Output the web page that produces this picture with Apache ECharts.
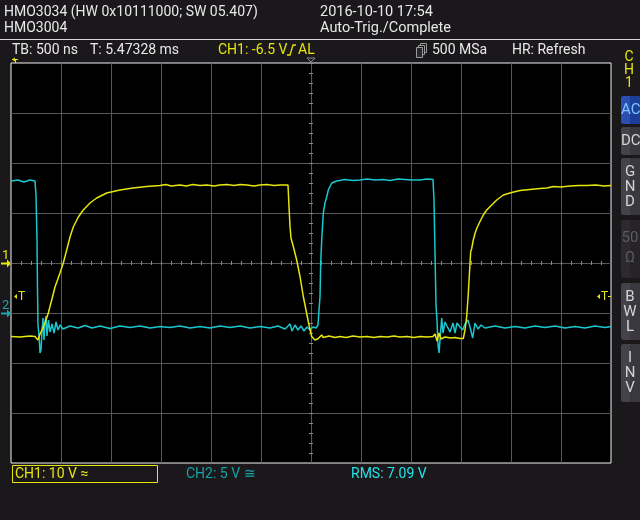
<!DOCTYPE html>
<html><head><meta charset="utf-8">
<script src="https://cdn.jsdelivr.net/npm/echarts@6/dist/echarts.min.js"></script>
<style>html,body{margin:0;padding:0;background:#1b181c;}#c{width:640px;height:520px;}</style>
</head><body><div id="c"></div>
<script>
// ---- Data (time in ns, relative to screen centre; volts) ----
const timeMin = -3000, timeMax = 3000, timePerDiv = 500;
const ch1VoltsPerDiv = 10, ch2VoltsPerDiv = 5;

const ch1Time = [-3000,-2910,-2810,-2760,-2750,-2730,-2710,-2690,-2660,-2627,-2593,-2560,-2510,-2477,-2443,-2410,-2377,-2327,-2277,-2210,-2143,-2043,-1910,-1780,-1643,-1510,-1450,-1400,-1310,-1250,-1180,-1110,-1040,-970,-910,-840,-770,-710,-640,-570,-510,-440,-370,-310,-230,
  -220,-210,-200,-177,-143,-110,-77,-43,-17,7,40,73,107,123,180,240,290,350,420,490,560,630,690,760,830,890,960,1030,1090,1160,1220,1240,1260,1280,1300,1340,1400,1440,1490,1523,
  1540,1557,1573,1590,1597,1607,1623,1640,1657,1690,1723,1757,1807,1857,1923,2007,2090,2190,2290,2360,2423,2500,2590,2680,2757,2850,2930,3000];
const ch1Volts = [-14.7,-14.8,-14.6,-14.7,-15.0,-15.4,-14.2,-13.4,-12.0,-10.0,-7.4,-4.8,-2.0,0,2.6,5.2,7.2,9.2,10.6,12.0,13.0,14.0,14.6,15.0,15.3,15.5,15.7,15.4,15.6,15.4,15.7,15.5,15.6,15.4,15.6,15.7,15.5,15.7,15.6,15.4,15.6,15.7,15.5,15.6,15.6,
  11.3,7.3,5.0,3.3,0.6,-2.7,-6.7,-10.1,-12.7,-14.7,-15.4,-15.1,-14.4,-14.9,-14.6,-14.9,-14.7,-14.9,-14.6,-14.8,-14.7,-14.9,-14.7,-14.8,-14.6,-14.8,-14.7,-14.9,-14.7,-14.8,-14.7,-14.2,-15.6,-14.0,-15.2,-14.8,-15.0,-14.9,-15.1,-15.1,
  -13.4,-10.7,-6.1,-0.1,2.3,2.9,4.6,5.9,6.9,8.3,9.6,10.6,11.6,12.6,13.6,14.1,14.5,14.7,14.9,15.0,15.3,15.2,15.4,15.5,15.5,15.6,15.4,15.5];

const ch2Time = [-3000,-2930,-2870,-2810,-2760,-2750,-2740,-2735,-2730,-2720,-2710,-2700,-2690,-2680,-2670,-2660,-2650,-2640,-2625,-2610,-2590,-2570,-2550,-2530,-2510,-2480,
  -2410,-2330,-2260,-2190,-2110,-2010,-1910,-1810,-1710,-1610,-1510,-1410,-1310,-1210,-1110,-1010,-910,-810,-710,-610,-510,-410,-330,-260,-210,-190,-160,-130,-100,-70,-40,-10,20,50,70,
  80,90,97,107,123,140,157,173,207,257,340,420,490,560,640,720,790,870,940,1010,1090,1160,1220,
  1230,1237,1250,1260,1270,1280,1290,1307,1320,1340,1357,1390,1420,1440,1460,1490,1517,1540,1570,1590,1617,1640,1670,1700,1740,
  1840,1940,2040,2140,2240,2340,2440,2540,2640,2740,2840,2940,3000];
const ch2Volts = [13.2,13.3,13.1,13.3,13.2,11.8,7.3,2.3,-1.2,-2.2,-4.0,-3.7,-1.7,-0.5,-2.7,-0.9,-0.3,-2.3,-0.7,-1.9,-1.1,-2.0,-0.9,-1.7,-1.2,-1.6,
  -1.3,-1.5,-1.25,-1.5,-1.3,-1.55,-1.3,-1.45,-1.3,-1.5,-1.35,-1.45,-1.3,-1.5,-1.35,-1.5,-1.3,-1.45,-1.3,-1.5,-1.35,-1.5,-1.3,-1.6,-1.1,-1.8,-1.2,-1.7,-1.3,-1.8,-1.4,-1.7,-1.4,-1.5,-1.2,
  0.3,1.6,5.0,7.3,10.0,11.0,11.6,12.3,13.0,13.2,13.35,13.25,13.3,13.4,13.3,13.35,13.25,13.4,13.35,13.3,13.3,13.4,13.35,
  11.3,7.6,0.8,-0.7,-3.2,-4.0,-2.7,-0.5,-2.0,-0.9,-1.0,-1.9,-1.0,-2.0,-1.0,-1.4,-1.7,-1.1,-0.7,-1.4,-2.5,-1.0,-1.6,-1.2,-1.5,
  -1.3,-1.5,-1.35,-1.5,-1.3,-1.45,-1.3,-1.5,-1.35,-1.5,-1.3,-1.45,-1.35];

// ---- Texts ----
const headerLeft = ['HMO3034 (HW 0x10111000; SW 05.407)', 'HMO3004'];
const headerRight = ['2016-10-10 17:54', 'Auto-Trig./Complete'];
const statusTexts = ['TB: 500 ns', 'T: 5.47328 ms', 'CH1: -6.5 V', 'AL', '500 MSa', 'HR: Refresh'];
const footerTexts = ['CH1: 10 V \u2248', 'CH2: 5 V \u2245', 'RMS: 7.09 V'];

const YEL = '#e6e60c', CYAN = '#19c8cf', FONT = 'Roboto, "Noto Sans", sans-serif';
const chart = echarts.init(document.getElementById('c'), null, {renderer: 'canvas'});

function txt(x, y, s, color, size, extra) {
  return Object.assign({type: 'text', x: x, y: y, silent: true, z: 50,
    style: {text: s, fill: color, font: (size || 14) + 'px ' + FONT, verticalAlign: 'middle'}}, extra || {});
}
function ctxt(x, y, s, color, size) {
  return {type: 'text', x: x, y: y, silent: true, z: 51,
    style: {text: s, fill: color, font: (size || 14) + 'px ' + FONT, align: 'center', verticalAlign: 'middle'}};
}
const g = [];
g.push(txt(4, 12, headerLeft[0], '#e8e8e8'));
g.push(txt(4, 28, headerLeft[1], '#e8e8e8'));
g.push(txt(320, 12, headerRight[0], '#e8e8e8', 14.5));
g.push(txt(320, 28, headerRight[1], '#e8e8e8', 14.5));
g.push({type: 'line', silent: true, shape: {x1: 0, y1: 39.5, x2: 640, y2: 39.5}, style: {stroke: '#d8d8d8', lineWidth: 1}});
g.push(txt(12, 50, statusTexts[0], '#e8e8e8'));
g.push(txt(90, 50, statusTexts[1], '#e8e8e8'));
g.push(txt(218, 50, statusTexts[2], YEL));
g.push({type: 'polyline', silent: true, shape: {points: [[287, 55], [290, 55], [293, 45], [296, 45]]}, style: {stroke: YEL, lineWidth: 1.3, fill: null}});
g.push(txt(298, 50, statusTexts[3], YEL));
// memory icon
g.push({type: 'rect', silent: true, shape: {x: 420.5, y: 43.5, width: 6, height: 9}, style: {stroke: '#9a9a9a', fill: '#1b181c'}});
g.push({type: 'rect', silent: true, shape: {x: 418.5, y: 45.5, width: 6, height: 9}, style: {stroke: '#9a9a9a', fill: '#1b181c'}});
g.push({type: 'rect', silent: true, shape: {x: 416.5, y: 47.5, width: 6, height: 10}, style: {stroke: '#9a9a9a', fill: '#2a282c'}});
g.push(txt(432, 50, statusTexts[4], '#e8e8e8'));
g.push(txt(512, 50, statusTexts[5], '#e8e8e8'));
// CH1 vertical label
g.push(ctxt(629, 57, 'C', YEL)); g.push(ctxt(629, 70, 'H', YEL)); g.push(ctxt(629, 83, '1', YEL));
// buttons
const btns = [
  {y: 96, h: 28, fill: '#1d3d9a', side: '#2a4fb0', color: '#7cc4ff', letters: [['AC', 110]], horiz: true},
  {y: 127, h: 28, fill: '#3a383e', side: '#45434a', color: '#d4d4d4', letters: [['DC', 141]], horiz: true},
  {y: 158, h: 57, fill: '#3a383e', side: '#45434a', color: '#d4d4d4', letters: [['G', 172], ['N', 187], ['D', 202]]},
  {y: 220, h: 58, fill: '#262428', side: '#2c2a2e', color: '#5c5c5c', letters: [['50', 238], ['\u03A9', 258]]},
  {y: 283, h: 57, fill: '#3a383e', side: '#45434a', color: '#d4d4d4', letters: [['B', 297], ['W', 312], ['L', 327]]},
  {y: 344, h: 58, fill: '#3a383e', side: '#45434a', color: '#d4d4d4', letters: [['I', 358], ['N', 373], ['V', 388]]}
];
btns.forEach(b => {
  g.push({type: 'rect', silent: true, shape: {x: 621, y: b.y, width: 24, height: b.h, r: 3}, style: {fill: b.fill}});
  g.push({type: 'rect', silent: true, shape: {x: 621, y: b.y, width: 9, height: b.h, r: [3, 0, 0, 3]}, style: {fill: b.side}});
  b.letters.forEach(l => g.push(b.horiz ? txt(621, l[1], l[0], b.color, 15) : ctxt(630, l[1], l[0], b.color, 15)));
});
// left channel markers
g.push(txt(2, 256, '1', YEL, 13));
g.push({type: 'polyline', silent: true, shape: {points: [[1, 263.5], [10, 263.5]]}, style: {stroke: YEL, lineWidth: 2}});
g.push({type: 'polygon', silent: true, shape: {points: [[7, 259.5], [11, 263.5], [7, 267.5]]}, style: {fill: YEL}});
g.push(txt(2, 306, '2', '#1aa6ac', 13));
g.push({type: 'polyline', silent: true, shape: {points: [[1, 313.5], [10, 313.5]]}, style: {stroke: '#1aa6ac', lineWidth: 2}});
g.push({type: 'polygon', silent: true, shape: {points: [[7, 309.5], [11, 313.5], [7, 317.5]]}, style: {fill: '#1aa6ac'}});
// trigger level markers
g.push({type: 'polygon', silent: true, z: 60, shape: {points: [[14, 296.5], [17, 294], [17, 299]]}, style: {fill: YEL}});
g.push(txt(18, 297, 'T', YEL, 12, {z: 60}));
g.push({type: 'polygon', silent: true, z: 60, shape: {points: [[597, 296.5], [600, 294], [600, 299]]}, style: {fill: YEL}});
g.push(txt(601, 297, 'T', YEL, 12, {z: 60}));
g.push({type: 'line', silent: true, z: 60, shape: {x1: 608, y1: 296.5, x2: 611, y2: 296.5}, style: {stroke: YEL, lineWidth: 1}});
// trigger position markers on top
g.push({type: 'polygon', silent: true, shape: {points: [[307, 58], [315, 58], [311, 62]]}, style: {stroke: '#8a8a8a', fill: null, lineWidth: 1}});
g.push({type: 'polyline', silent: true, shape: {points: [[12, 59.5], [18, 59.5]]}, style: {stroke: YEL, lineWidth: 1}});
g.push({type: 'polygon', silent: true, shape: {points: [[12, 59.5], [15, 57.5], [15, 61.5]]}, style: {fill: YEL}});
g.push({type: 'line', silent: true, shape: {x1: 15.5, y1: 59.5, x2: 15.5, y2: 63}, style: {stroke: YEL, lineWidth: 1}});
// footer
g.push({type: 'rect', silent: true, shape: {x: 12.5, y: 465.5, width: 145, height: 17}, style: {stroke: YEL, fill: null, lineWidth: 1}});
g.push(txt(15, 474, footerTexts[0], YEL));
g.push(txt(186, 474, footerTexts[1], '#15a2a6'));
g.push(txt(351, 474, footerTexts[2], '#24e2ea'));

const tickStyle = {color: '#8c8c8c', width: 1};
const gridLine = {color: '#585858', width: 1};
chart.setOption({
  backgroundColor: '#1b181c',
  animation: false,
  grid: {left: 11, top: 63, width: 600, height: 400, show: true, backgroundColor: '#000', borderColor: '#f2f2f2', borderWidth: 1, containLabel: false},
  xAxis: [
    {type: 'value', min: timeMin, max: timeMax, interval: timePerDiv, axisLabel: {show: false},
     splitLine: {show: true, showMinLine: false, showMaxLine: false, lineStyle: gridLine},
     axisLine: {show: true, onZero: true, onZeroAxisIndex: 0, lineStyle: gridLine},
     axisTick: {show: true, inside: true, length: 2, lineStyle: tickStyle},
     minorTick: {show: true, splitNumber: 5, length: 2, lineStyle: tickStyle}},
    {type: 'value', min: timeMin, max: timeMax, interval: timePerDiv, position: 'bottom', axisLabel: {show: false},
     splitLine: {show: false}, axisLine: {show: false, onZero: true, onZeroAxisIndex: 2},
     axisTick: {show: true, inside: false, length: 2, lineStyle: tickStyle},
     minorTick: {show: true, splitNumber: 5, length: 2, lineStyle: tickStyle}}
  ],
  yAxis: [
    {type: 'value', min: -4 * ch1VoltsPerDiv, max: 4 * ch1VoltsPerDiv, interval: ch1VoltsPerDiv, axisLabel: {show: false},
     splitLine: {show: true, showMinLine: false, showMaxLine: false, lineStyle: gridLine},
     axisLine: {show: true, onZero: true, onZeroAxisIndex: 0, lineStyle: gridLine},
     axisTick: {show: true, inside: true, length: 2, lineStyle: tickStyle},
     minorTick: {show: true, splitNumber: 5, length: 2, lineStyle: tickStyle}},
    {type: 'value', min: -3 * ch2VoltsPerDiv, max: 5 * ch2VoltsPerDiv, interval: ch2VoltsPerDiv, show: false,
     axisLine: {onZero: false}, splitLine: {show: false}},
    {type: 'value', min: -4 * ch1VoltsPerDiv, max: 4 * ch1VoltsPerDiv, interval: ch1VoltsPerDiv, position: 'left', axisLabel: {show: false},
     splitLine: {show: false}, axisLine: {show: false, onZero: true, onZeroAxisIndex: 1},
     axisTick: {show: true, inside: false, length: 2, lineStyle: tickStyle},
     minorTick: {show: true, splitNumber: 5, length: 2, lineStyle: tickStyle}}
  ],
  series: [
    {type: 'line', name: 'CH2', xAxisIndex: 0, yAxisIndex: 1, symbol: 'none', z: 3, silent: true,
     lineStyle: {color: CYAN, width: 1.5}, data: ch2Time.map((t, i) => [t, ch2Volts[i]])},
    {type: 'line', name: 'CH1', xAxisIndex: 0, yAxisIndex: 0, symbol: 'none', z: 4, silent: true,
     lineStyle: {color: YEL, width: 1.5}, data: ch1Time.map((t, i) => [t, ch1Volts[i]])}
  ],
  graphic: g
});
</script></body></html>
